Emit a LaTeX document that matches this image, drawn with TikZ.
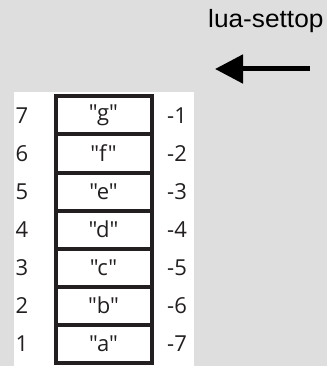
\documentclass[tikz,border=0pt]{standalone}
\usepackage{fontspec}
\setmainfont{Liberation Sans}
\newfontfamily\cellfont{Open Sans}
\usetikzlibrary{arrows.meta}
\definecolor{pagegray}{HTML}{DEDEDE}
\definecolor{inkblack}{HTML}{231F20}
\tikzset{
  cell/.style={draw=inkblack, line width=4pt, minimum width=96pt,
    minimum height=38pt, inner sep=0pt, outer sep=0pt,
    font=\cellfont\fontsize{22}{22}\selectfont, text=inkblack},
  idx/.style={inner sep=0pt, font=\cellfont\fontsize{22}{22}\selectfont, text=inkblack},
  pusharrow/.style={draw=black, line width=5pt,
    -{Triangle[length=28pt, width=28pt]}}
}
\begin{document}
\begin{tikzpicture}[x=1pt, y=1pt]
  % page and white stack panel
  \fill[pagegray] (0,0) rectangle (327,-366);
  \useasboundingbox (0,0) rectangle (327,-366);
  \fill[white] (14,-92) rectangle (194,-366);

  % stack cells, top to bottom, with positive and negative indices
  \foreach \k/\v/\p/\n in {0/g/7/-1, 1/f/6/-2, 2/e/5/-3, 3/d/4/-4,
                           4/c/3/-5, 5/b/2/-6, 6/a/1/-7} {
    \node[cell] (cell\p) at (103.5, {-115.5-38*\k}) {"\v"};
    \node[idx] (pos\p) at (22, {-115.5-38*\k}) {\p};
    \node[idx] (neg\p) at (177, {-115.5-38*\k}) {\n};
  }

  % operation name and arrow
  \node[anchor=base west, inner sep=0pt, text=black] (opname) at (208,-28)
    {\scalebox{1.05}[1]{\fontsize{25}{25}\selectfont lua-settop}};
  \coordinate (arrowstart) at (310,-69);
  \coordinate (arrowend) at (215,-69);
  \draw[pusharrow] (arrowstart) -- (arrowend);
\end{tikzpicture}
\end{document}
